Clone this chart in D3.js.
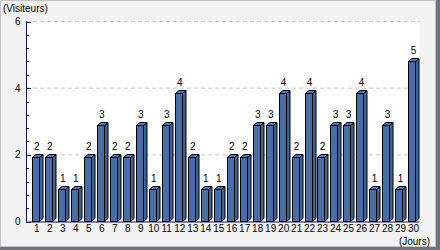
<!DOCTYPE html>
<html>
<head>
<meta charset="utf-8">
<script src="https://cdn.jsdelivr.net/npm/d3@7"></script>
<style>
  html, body { margin: 0; padding: 0; background: #fff; }
  svg { display: block; }
  text { font-family: "Liberation Sans", Arial, sans-serif; font-size: 10px; fill: #000; }
  .labels { opacity: 0.99; }
</style>
</head>
<body>
<svg id="chart" width="440" height="250"></svg>
<script>
const days = d3.range(1, 31);
const visitors = [2, 2, 1, 1, 2, 3, 2, 2, 3, 1, 3, 4, 2, 1, 1, 2, 2, 3, 3, 4, 2, 4, 2, 3, 3, 4, 1, 3, 1, 5];
const yTicks = [0, 2, 4, 6];

const svg = d3.select("#chart");
const W = 440, H = 250;
const plot = { left: 26, right: 419.5, top: 21.5, bottom: 221.5 };
const depth = { dx: 3.5, dy: 3 };

// frame + shadow
svg.append("rect").attr("x", 436).attr("y", 0).attr("width", 4).attr("height", H).attr("fill", "#71727a");
svg.append("rect").attr("x", 0).attr("y", 247).attr("width", W).attr("height", 3).attr("fill", "#71727a");
svg.append("rect").attr("x", 0.5).attr("y", 0.5).attr("width", 435).attr("height", 246)
  .attr("fill", "#f2f2f2").attr("stroke", "#c4c4c4");

svg.append("rect")
  .attr("x", plot.left).attr("y", plot.top - 1)
  .attr("width", plot.right - plot.left).attr("height", plot.bottom - plot.top + 1)
  .attr("fill", "#fff");

const y = d3.scaleLinear().domain([0, 6]).range([plot.bottom, plot.top]);
// bars are drawn a bit shorter because of the 3D depth
const yBar = d3.scaleLinear().domain([0, 6]).range([plot.bottom, 29]);

const x = d3.scaleBand()
  .domain(days)
  .range([28.6, 418.3])
  .paddingInner(0.48)
  .paddingOuter(0.24);

// gridlines
svg.append("g")
  .selectAll("line")
  .data(yTicks.filter(d => d > 0))
  .join("line")
  .attr("x1", plot.left).attr("x2", plot.right)
  .attr("y1", d => y(d)).attr("y2", d => y(d))
  .attr("stroke", "#c8c8c8")
  .attr("stroke-dasharray", "4,3");

// bars
const bw = x.bandwidth();
const bars = svg.append("g")
  .selectAll("g")
  .data(days.map((d, i) => ({ day: d, v: visitors[i] })))
  .join("g");

bars.append("path")
  .attr("d", d => {
    const x0 = Math.round(x(d.day)) + 0.5, x1 = x0 + Math.round(bw);
    const yt = Math.round(yBar(d.v)) + 0.5, yb = plot.bottom;
    return `M${x1},${yb}L${x1 + depth.dx},${yb - depth.dy}L${x1 + depth.dx},${yt - depth.dy}L${x1},${yt}Z`;
  })
  .attr("fill", "#3d6398").attr("stroke", "#000").attr("stroke-width", 1);

bars.append("path")
  .attr("d", d => {
    const x0 = Math.round(x(d.day)) + 0.5, x1 = x0 + Math.round(bw);
    const yt = Math.round(yBar(d.v)) + 0.5;
    return `M${x0},${yt}L${x0 + depth.dx},${yt - depth.dy}L${x1 + depth.dx},${yt - depth.dy}L${x1},${yt}Z`;
  })
  .attr("fill", "#5479b0").attr("stroke", "#000").attr("stroke-width", 1);

bars.append("rect")
  .attr("x", d => Math.round(x(d.day)) + 0.5)
  .attr("y", d => Math.round(yBar(d.v)) + 0.5)
  .attr("width", Math.round(bw))
  .attr("height", d => plot.bottom - Math.round(yBar(d.v)) - 0.5)
  .attr("fill", "#466ea7").attr("stroke", "#000").attr("stroke-width", 1);

const labels = svg.append("g").attr("class", "labels");

labels.selectAll("text.val")
  .data(days.map((d, i) => ({ day: d, v: visitors[i] })))
  .join("text")
  .attr("class", "val")
  .attr("x", d => x(d.day) + bw / 2 + depth.dx / 2)
  .attr("y", d => yBar(d.v) - depth.dy - 4)
  .attr("text-anchor", "middle")
  .text(d => d.v);

// y axis
const yAxis = svg.append("g");
yAxis.append("line")
  .attr("x1", plot.left + 0.5).attr("x2", plot.left + 0.5)
  .attr("y1", plot.top).attr("y2", plot.bottom)
  .attr("stroke", "#101070");
yAxis.selectAll("line.minor")
  .data(d3.range(0, 6.01, 0.4))
  .join("line")
  .attr("class", "minor")
  .attr("x1", plot.left).attr("x2", plot.left + 3)
  .attr("y1", d => Math.round(y(d)) + 0.5).attr("y2", d => Math.round(y(d)) + 0.5)
  .attr("stroke", "#101070");
yAxis.selectAll("line.major")
  .data(yTicks)
  .join("line")
  .attr("class", "major")
  .attr("x1", plot.left).attr("x2", plot.left + 5)
  .attr("y1", d => Math.round(y(d)) + 0.5).attr("y2", d => Math.round(y(d)) + 0.5)
  .attr("stroke", "#101070");
labels.selectAll("text.ytick")
  .data(yTicks)
  .join("text")
  .attr("class", "ytick")
  .attr("x", 20.5)
  .attr("y", d => y(d) + 3.5)
  .attr("text-anchor", "end")
  .text(d => d);

// x axis
svg.append("line")
  .attr("x1", plot.left).attr("x2", plot.right)
  .attr("y1", plot.bottom + 0.5).attr("y2", plot.bottom + 0.5)
  .attr("stroke", "#101070");
labels.selectAll("text.xtick")
  .data(days)
  .join("text")
  .attr("class", "xtick")
  .attr("x", d => x(d) + bw / 2 + depth.dx / 2)
  .attr("y", 232)
  .attr("text-anchor", "middle")
  .text(d => d);

labels.append("text").attr("x", 3).attr("y", 11.5).text("(Visiteurs)");
labels.append("text").attr("x", 430).attr("y", 245).attr("text-anchor", "end").text("(Jours)");
</script>
</body>
</html>
